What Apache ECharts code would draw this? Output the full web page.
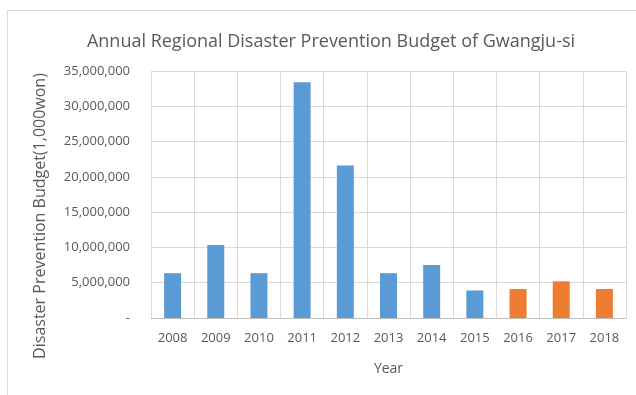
<!DOCTYPE html>
<html>
<head>
<meta charset="utf-8">
<script src="https://cdn.jsdelivr.net/npm/echarts@6/dist/echarts.min.js"></script>
<style>html,body{margin:0;padding:0;background:#fff;}#c{width:636px;height:395px;}</style>
</head>
<body>
<div id="c"></div>
<script>
var years = ['2008','2009','2010','2011','2012','2013','2014','2015','2016','2017','2018'];
var budgetPast = [6350000, 10350000, 6350000, 33400000, 21600000, 6350000, 7500000, 3900000, null, null, null];
var budgetRecent = [null, null, null, null, null, null, null, null, 4100000, 5200000, 4100000];
var yTicks = [0, 5000000, 10000000, 15000000, 20000000, 25000000, 30000000, 35000000];

function fmt(v){
  if (v === 0) return '-';
  return String(v).replace(/\B(?=(\d{3})+(?!\d))/g, ',');
}
var font = '"Open Sans", "Noto Sans", sans-serif';
var chart = echarts.init(document.getElementById('c'), null, {renderer:'canvas'});
chart.setOption({
  animation: false,
  backgroundColor: '#fff',
  title: {
    text: 'Annual Regional Disaster Prevention Budget of Gwangju-si',
    left: 326, top: 28, textAlign: 'center',
    textStyle: {fontFamily: font, fontSize: 18, fontWeight: 'normal', color: '#595959'}
  },
  graphic: [
    {type:'line', shape:{x1:7.5,y1:10.5,x2:636,y2:10.5}, style:{stroke:'#d9d9d9', lineWidth:1}},
    {type:'line', shape:{x1:7.5,y1:10.5,x2:7.5,y2:395}, style:{stroke:'#d9d9d9', lineWidth:1}},
    {type:'text', x:40, y:216, rotation:Math.PI/2,
     style:{text:'Disaster Prevention Budget(1,000won)', font:'16px "Open Sans", "Noto Sans", sans-serif', fill:'#595959', textAlign:'center', textVerticalAlign:'middle'}}
  ],
  grid: {left: 151, right: 10, top: 71, bottom: 77, containLabel: false},
  xAxis: {
    type: 'category',
    data: years,
    name: 'Year', nameLocation: 'middle', nameGap: 44,
    nameTextStyle: {fontFamily: font, fontSize: 14, color: '#595959'},
    axisLine: {lineStyle: {color: '#bfbfbf'}},
    axisTick: {show: false},
    axisLabel: {fontFamily: font, fontSize: 13, color: '#595959', margin: 14},
    splitLine: {show: true, lineStyle: {color: '#d9d9d9'}}
  },
  yAxis: {
    type: 'value', min: 0, max: 35000000, interval: 5000000,
    axisLine: {show: false}, axisTick: {show: false},
    axisLabel: {fontFamily: font, fontSize: 13, color: '#595959', margin: 21, formatter: fmt},
    splitLine: {lineStyle: {color: '#d9d9d9'}}
  },
  series: [
    {type:'bar', data: budgetPast, barWidth: 17, barGap: '-100%', itemStyle:{color:'#5B9BD5'}},
    {type:'bar', data: budgetRecent, barWidth: 17, barGap: '-100%', itemStyle:{color:'#ED7D31'}}
  ]
});
</script>
</body>
</html>
